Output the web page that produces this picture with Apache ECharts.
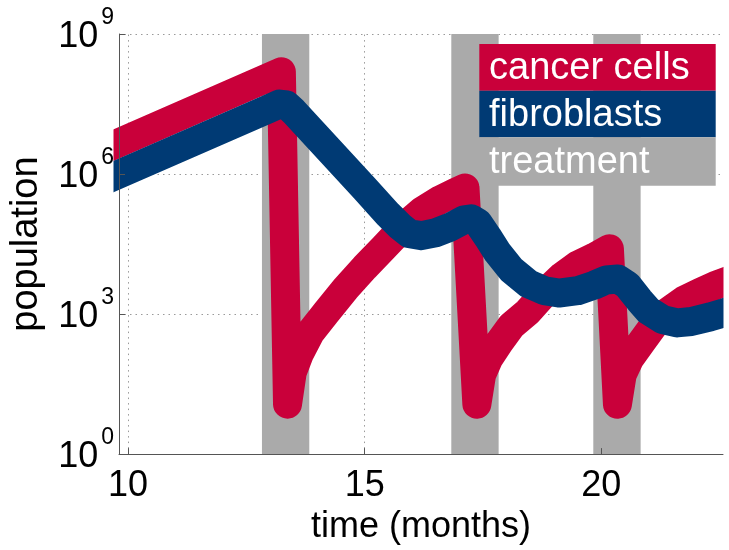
<!DOCTYPE html>
<html><head><meta charset="utf-8">
<script src="https://cdn.jsdelivr.net/npm/echarts@6/dist/echarts.min.js"></script>
<style>html,body{margin:0;padding:0;background:#fff}#c{width:729px;height:550px}</style>
</head><body><div id="c"></div><script>
// time (months) and log10(population)
const cancerMonths = [9.5, 13.24, 13.37, 13.47, 13.62, 13.85, 14.2, 14.6, 15.0, 15.4, 15.8, 16.2, 16.6, 16.9, 17.12,
  17.37, 17.47, 17.62, 17.85, 18.1, 18.45, 18.8, 19.16, 19.5, 19.85, 20.17,
  20.34, 20.44, 20.6, 20.85, 21.1, 21.4, 21.75, 22.1, 22.4, 22.8];
const cancerLog10 = [6.53, 8.19, 1.07, 1.75, 2.15, 2.6, 3.05, 3.55, 4.0, 4.42, 4.85, 5.2, 5.45, 5.6, 5.70,
  1.07, 1.7, 2.05, 2.4, 2.75, 3.05, 3.45, 3.8, 4.05, 4.22, 4.40,
  1.07, 1.7, 2.05, 2.4, 2.75, 3.05, 3.3, 3.47, 3.61, 3.76];
const fibroMonths = [9.5, 13.0, 13.2, 13.35, 13.5, 15.0, 15.5, 15.75, 15.95, 16.2, 16.5, 16.8, 17.1, 17.25, 17.4,
  17.6, 17.8, 18.1, 18.46, 18.8, 19.1, 19.5, 19.85, 20.1, 20.35, 20.55, 20.8, 21.0, 21.3, 21.6, 21.9, 22.3, 22.57, 22.8];
const fibroLog10 = [5.86, 7.41, 7.5, 7.48, 7.34, 5.69, 5.13, 4.88, 4.72, 4.68, 4.74, 4.86, 5.02, 5.04, 4.95,
  4.65, 4.33, 3.95, 3.65, 3.5, 3.45, 3.5, 3.62, 3.73, 3.75, 3.62, 3.3, 3.07, 2.88, 2.81, 2.84, 2.94, 3.02, 3.1];
const treatStart = [12.83, 16.83, 19.83];
const treatEnd = [13.83, 17.83, 20.83];
const xTicks = [10, 15, 20];
const yTicks = [1, 1e3, 1e6, 1e9];
const legendNames = ['cancer cells', 'fibroblasts', 'treatment'];

const RED = '#C9003A', BLUE = '#003A74', GRAY = '#AAAAAA';
const FONT = 'Liberation Sans, Arial, Helvetica, sans-serif';
const LW = 29;

const pairs = (xs, ls) => xs.map((x, i) => [x, Math.pow(10, ls[i])]);

const chart = echarts.init(document.getElementById('c'), null, {renderer: 'canvas'});
const gridL = 114, gridR = 6, gridT = 34, gridB = 92;
const legendTop = 44, rowH = [46.7, 46.6, 48.4], legX = 479.3, legW = 236.4;
const legColors = [RED, BLUE, GRAY];
const graphicEls = [
  // white masks outside the plot so the thick lines end flush with the axes
  {type: 'rect', shape: {x: 0, y: 0, width: gridL - 0.5, height: 550}, style: {fill: '#fff'}, z: 50, silent: true},
  {type: 'rect', shape: {x: 729 - gridR + 0.5, y: 0, width: gridR, height: 550}, style: {fill: '#fff'}, z: 50, silent: true}
];
let yy = legendTop;
legendNames.forEach((n, i) => {
  graphicEls.push({type: 'rect', shape: {x: legX, y: yy, width: legW, height: rowH[i]}, style: {fill: legColors[i]}, z: 100});
  graphicEls.push({type: 'text', x: 489, y: yy + rowH[i] / 2 + 1.5, z: 101,
    style: {text: n, fill: '#fff', font: '38px ' + FONT, verticalAlign: 'middle', align: 'left'}});
  yy += rowH[i];
});

chart.setOption({
  animation: false,
  backgroundColor: '#fff',
  grid: {left: gridL, right: gridR, top: gridT, bottom: gridB},
  xAxis: {
    type: 'value', min: 9.81, max: 22.57, z: 60,
    splitLine: {show: false},
    axisLine: {show: true, lineStyle: {color: '#555', width: 1}},
    axisTick: {show: true, inside: true, length: 6, customValues: xTicks, lineStyle: {color: '#555'}},
    axisLabel: {customValues: xTicks, margin: 14, fontSize: 36, color: '#000', fontFamily: FONT},
    name: 'time (months)', nameLocation: 'middle', nameGap: 46,
    nameTextStyle: {fontSize: 36, color: '#000', fontFamily: FONT}
  },
  yAxis: {
    type: 'log', logBase: 10, min: 1, max: 1e9, z: 60,
    splitLine: {show: false}, minorTick: {show: false},
    axisLine: {show: true, lineStyle: {color: '#555', width: 1}},
    axisTick: {show: true, inside: true, length: 6, customValues: yTicks, lineStyle: {color: '#555'}},
    axisLabel: {
      customValues: yTicks, margin: 5, color: '#000',
      formatter: v => '{b|10}{e|' + Math.round(Math.log10(v)) + '}',
      rich: {
        b: {fontSize: 36, fontFamily: FONT, color: '#000', lineHeight: 56, padding: [6, 0, 0, 0]},
        e: {fontSize: 23, fontFamily: FONT, color: '#000', lineHeight: 18, verticalAlign: 'top', padding: [0, 0, 0, 3]}
      }
    },
    name: 'population', nameLocation: 'middle', nameGap: 73, nameRotate: 90,
    nameTextStyle: {fontSize: 38, color: '#000', fontFamily: FONT}
  },
  graphic: graphicEls,
  series: [
    {
      type: 'line', name: 'grid', data: [], silent: true,
      markLine: {
        z: 1, silent: true, symbol: 'none', label: {show: false},
        lineStyle: {type: [1.5, 4], color: '#9a9a9a', width: 1},
        data: xTicks.map(v => ({xAxis: v})).concat(yTicks.slice(1).map(v => ({yAxis: v})))
      }
    },
    {
      type: 'line', name: 'treatment', data: [], silent: true,
      markArea: {
        z: 2, silent: true, itemStyle: {color: GRAY, opacity: 1},
        data: treatStart.map((s, i) => [{xAxis: s}, {xAxis: treatEnd[i]}])
      }
    },
    {
      type: 'line', name: 'cancer cells', z: 10, data: pairs(cancerMonths, cancerLog10),
      showSymbol: false, symbol: 'none', clip: true,
      lineStyle: {color: RED, width: LW, cap: 'round', join: 'round'}
    },
    {
      type: 'line', name: 'fibroblasts', z: 11, data: pairs(fibroMonths, fibroLog10),
      showSymbol: false, symbol: 'none', clip: true,
      lineStyle: {color: BLUE, width: LW, cap: 'round', join: 'round'}
    }
  ]
});
</script></body></html>
